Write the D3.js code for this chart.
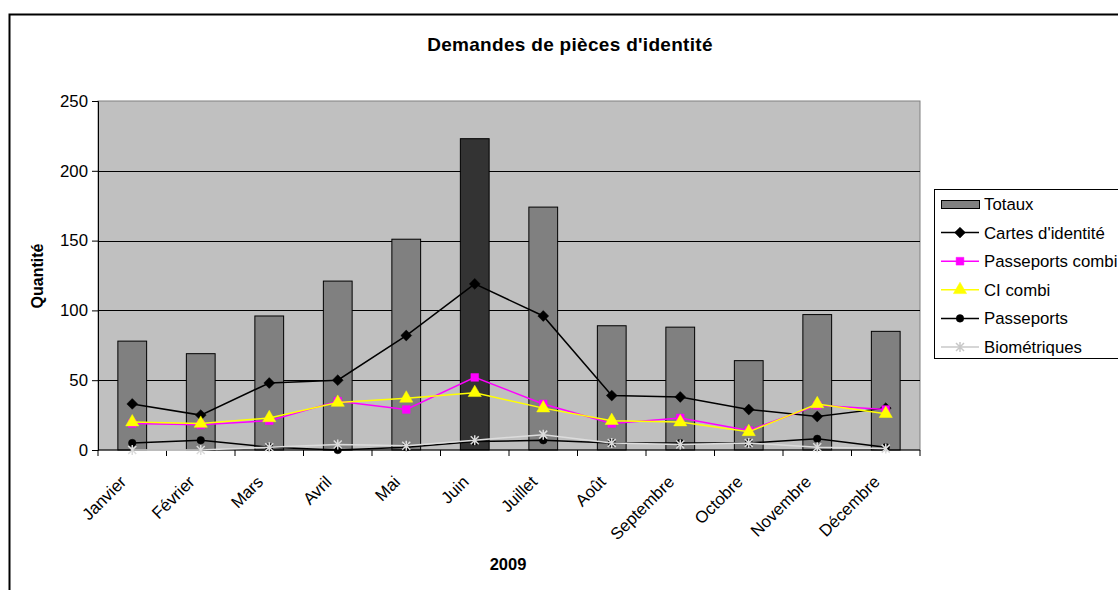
<!DOCTYPE html>
<html>
<head>
<meta charset="utf-8">
<script src="https://cdn.jsdelivr.net/npm/d3@7"></script>
<style>
  body { margin: 0; background: #fff; }
  svg { font-family: "Liberation Sans", Arial, sans-serif; }
  .tick text { font-size: 16.8px; fill: #000; }
</style>
</head>
<body>
<script>
//chart data
var months = ["Janvier", "Février", "Mars", "Avril", "Mai", "Juin", "Juillet", "Août", "Septembre", "Octobre", "Novembre", "Décembre"];
var totaux = [78, 69, 96, 121, 151, 223, 174, 89, 88, 64, 97, 85];
var cartes = [33, 25, 48, 50, 82, 119, 96, 39, 38, 29, 24, 30];
var passCombi = [19, 18, 21, 35, 29, 52, 33, 19, 23, 14, 32, 29];
var ciCombi = [20, 19, 23, 34, 37, 41, 30, 21, 20, 13, 33, 26];
var passeports = [5, 7, 2, 0, 2, 6, 7, 5, 5, 5, 8, 2];
var biometriques = [0, 0, 2, 4, 3, 7, 11, 5, 4, 5, 2, 1];
var yTicks = [0, 50, 100, 150, 200, 250];

//frame
var width = 1118, height = 590;
var plotLeft = 98, plotRight = 920, plotTop = 101, plotBottom = 450;

var svg = d3.select("body").append("svg")
    .attr("width", width)
    .attr("height", height);

//outer chart border
svg.append("rect")
    .attr("x", 9.5).attr("y", 14.5)
    .attr("width", 1300).attr("height", 800)
    .attr("fill", "#fff")
    .attr("stroke", "#000")
    .attr("stroke-width", 2);

//scales
var x = d3.scaleBand()
    .domain(months)
    .range([plotLeft, plotRight]);

var y = d3.scaleLinear()
    .domain([0, 250])
    .range([plotBottom, plotTop]);

//plot background
svg.append("rect")
    .attr("x", plotLeft).attr("y", plotTop)
    .attr("width", plotRight - plotLeft)
    .attr("height", plotBottom - plotTop)
    .attr("fill", "#C0C0C0")
    .attr("stroke", "#808080")
    .attr("stroke-width", 1);

//gridlines
svg.append("g")
    .selectAll("line")
    .data(yTicks.slice(1, 5))
    .enter()
    .append("line")
    .attr("x1", plotLeft).attr("x2", plotRight)
    .attr("y1", function(d){ return Math.round(y(d)) + 0.5; })
    .attr("y2", function(d){ return Math.round(y(d)) + 0.5; })
    .attr("stroke", "#000")
    .attr("stroke-width", 1);

//bars for totals
var barW = x.bandwidth() * 0.42;
svg.append("g")
    .selectAll("rect")
    .data(totaux)
    .enter()
    .append("rect")
    .attr("x", function(d, i){ return x(months[i]) + (x.bandwidth() - barW) / 2; })
    .attr("y", function(d){ return y(d); })
    .attr("width", barW)
    .attr("height", function(d){ return plotBottom - y(d); })
    .attr("fill", function(d, i){ return months[i] == "Juin" ? "#333333" : "#808080"; })
    .attr("stroke", "#000")
    .attr("stroke-width", 1);

//axes
var yAxis = d3.axisLeft(y)
    .tickValues(yTicks)
    .tickSize(6)
    .tickPadding(4);
svg.append("g")
    .attr("transform", "translate(" + plotLeft + ",0)")
    .call(yAxis)
    .call(function(g){ g.select(".domain").attr("stroke", "#000"); });

var xAxis = svg.append("g")
    .attr("transform", "translate(0," + plotBottom + ")");
xAxis.append("line")
    .attr("x1", plotLeft).attr("x2", plotRight)
    .attr("stroke", "#000");
xAxis.selectAll(".xt")
    .data(months.concat(["end"]))
    .enter()
    .append("line")
    .attr("x1", function(d, i){ return plotLeft + i * x.step(); })
    .attr("x2", function(d, i){ return plotLeft + i * x.step(); })
    .attr("y1", 0).attr("y2", 6)
    .attr("stroke", "#000");
svg.append("g")
    .selectAll("text")
    .data(months)
    .enter()
    .append("text")
    .attr("transform", function(d){
        return "translate(" + (x(d) + x.bandwidth() / 2 - 5) + "," + 483 + ") rotate(-45)";
    })
    .attr("text-anchor", "end")
    .attr("font-size", 16.8)
    .text(function(d){ return d; });

//line series
var series = [
    {name: "Cartes d'identité", values: cartes, color: "#000", marker: "diamond"},
    {name: "Passeports combi", values: passCombi, color: "#FF00FF", marker: "square"},
    {name: "CI combi", values: ciCombi, color: "#FFFF00", marker: "triangle"},
    {name: "Passeports", values: passeports, color: "#000", marker: "circle"},
    {name: "Biométriques", values: biometriques, color: "#DCDCDC", marker: "star"}
];

function markerPath(type){
    if (type == "diamond") return d3.symbol().type(d3.symbolDiamond2).size(75)();
    if (type == "square") return d3.symbol().type(d3.symbolSquare).size(60)();
    if (type == "triangle") return d3.symbol().type(d3.symbolTriangle).size(75)();
    if (type == "circle") return d3.symbol().type(d3.symbolCircle).size(45)();
    return "M-4,-4L4,4M-4,4L4,-4M0,-5L0,5";
}

var line = d3.line()
    .x(function(d, i){ return x(months[i]) + x.bandwidth() / 2; })
    .y(function(d){ return y(d); });

series.forEach(function(s){
    var g = svg.append("g");
    g.append("path")
        .datum(s.values)
        .attr("d", line)
        .attr("fill", "none")
        .attr("stroke", s.color)
        .attr("stroke-width", 1.5);
    g.selectAll("path.m")
        .data(s.values)
        .enter()
        .append("path")
        .attr("class", "m")
        .attr("transform", function(d, i){
            return "translate(" + (x(months[i]) + x.bandwidth() / 2) + "," + y(d) + ")";
        })
        .attr("d", markerPath(s.marker))
        .attr("fill", s.marker == "star" ? "none" : s.color)
        .attr("stroke", s.color)
        .attr("stroke-width", s.marker == "star" ? 1.5 : 0.5);
});

//titles
svg.append("text")
    .attr("x", 570).attr("y", 51)
    .attr("text-anchor", "middle")
    .attr("font-size", 19)
    .attr("letter-spacing", 0.3)
    .attr("font-weight", "bold")
    .text("Demandes de pièces d'identité");

svg.append("text")
    .attr("transform", "translate(43,276) rotate(-90)")
    .attr("text-anchor", "middle")
    .attr("font-size", 16)
    .attr("font-weight", "bold")
    .text("Quantité");

svg.append("text")
    .attr("x", 508).attr("y", 570)
    .attr("text-anchor", "middle")
    .attr("font-size", 16.5)
    .attr("font-weight", "bold")
    .text("2009");

//legend
var legend = svg.append("g");
legend.append("rect")
    .attr("x", 934.5).attr("y", 189.5)
    .attr("width", 300).attr("height", 169)
    .attr("fill", "#fff")
    .attr("stroke", "#000");

var legendRowH = 28.6, legendY0 = 204;
legend.append("rect")
    .attr("x", 941.5).attr("y", legendY0 - 3.5)
    .attr("width", 38).attr("height", 8)
    .attr("fill", "#808080")
    .attr("stroke", "#000");
legend.append("text")
    .attr("x", 984).attr("y", legendY0 + 6)
    .attr("font-size", 16.8)
    .text("Totaux");

series.forEach(function(s, i){
    var ly = legendY0 + (i + 1) * legendRowH;
    legend.append("line")
        .attr("x1", 941).attr("x2", 979)
        .attr("y1", ly).attr("y2", ly)
        .attr("stroke", s.color == "#DCDCDC" ? "#C8C8C8" : s.color)
        .attr("stroke-width", 1.5);
    legend.append("path")
        .attr("transform", "translate(960," + ly + ")")
        .attr("d", markerPath(s.marker))
        .attr("fill", s.marker == "star" ? "none" : s.color)
        .attr("stroke", s.color == "#DCDCDC" ? "#C8C8C8" : s.color)
        .attr("stroke-width", s.marker == "star" ? 1.5 : 0.5);
    legend.append("text")
        .attr("x", 984).attr("y", ly + 6)
        .attr("font-size", 16.8)
        .text(s.name);
});
</script>
</body>
</html>
